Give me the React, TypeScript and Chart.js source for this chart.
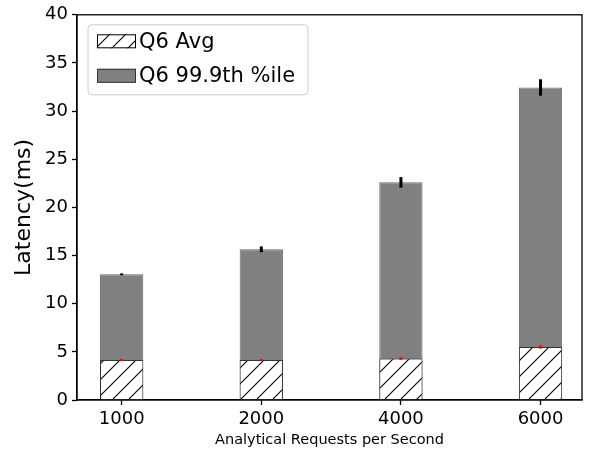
import React, { useEffect, useRef } from 'react';
import { Chart, registerables } from 'chart.js';

Chart.register(...registerables);

// ---- data ----
const categories = ['1000', '2000', '4000', '6000'];
const seriesLabels = ['Q6 Avg', 'Q6 99.9th %ile'];
const avgValues = [4.15, 4.15, 4.3, 5.5];
const avgErrors = [0.12, 0.1, 0.13, 0.17];
const p999Values = [13.05, 15.65, 22.6, 32.45];
const p999Errors = [0.1, 0.3, 0.55, 0.85];
const yMin = 0;
const yMax = 40;
const yStep = 5;
const xAxisTitle = 'Analytical Requests per Second';
const yAxisTitle = 'Latency(ms)';

const FONT = '"DejaVu Sans", "Liberation Sans", sans-serif';

function makeHatch(): CanvasPattern | string {
  const s = 16;
  const c = document.createElement('canvas');
  c.width = s;
  c.height = s;
  const g = c.getContext('2d');
  if (!g) return '#fff';
  g.fillStyle = '#ffffff';
  g.fillRect(0, 0, s, s);
  g.strokeStyle = '#000000';
  g.lineWidth = 1.1;
  g.beginPath();
  g.moveTo(-2, s + 2);
  g.lineTo(s + 2, -2);
  g.moveTo(-2, 2);
  g.lineTo(2, -2);
  g.moveTo(s - 2, s + 2);
  g.lineTo(s + 2, s - 2);
  g.stroke();
  return g.createPattern(c, 'repeat') || '#fff';
}

const errorBarPlugin = {
  id: 'errorBars',
  afterDatasetsDraw(chart: any) {
    const { ctx } = chart;
    const xs = chart.scales.x;
    const ys = chart.scales.y;
    const sets = [
      { vals: p999Values, errs: p999Errors, color: '#000000', w: 3 },
      { vals: avgValues, errs: avgErrors, color: '#ff0000', w: 3 },
    ];
    ctx.save();
    sets.forEach((s) => {
      ctx.strokeStyle = s.color;
      ctx.lineWidth = s.w;
      s.vals.forEach((v, i) => {
        const x = xs.getPixelForValue(i);
        ctx.beginPath();
        ctx.moveTo(x, ys.getPixelForValue(v - s.errs[i]));
        ctx.lineTo(x, ys.getPixelForValue(v + s.errs[i]));
        ctx.stroke();
      });
    });
    ctx.restore();
  },
};

const framePlugin = {
  id: 'frame',
  afterDraw(chart: any) {
    const { ctx, chartArea } = chart;
    ctx.save();
    ctx.strokeStyle = '#000';
    ctx.lineWidth = 1.3;
    ctx.strokeRect(chartArea.left, chartArea.top, chartArea.right - chartArea.left, chartArea.bottom - chartArea.top);
    ctx.restore();
  },
};

const legendPlugin = {
  id: 'boxLegend',
  afterDraw(chart: any) {
    const { ctx, chartArea } = chart;
    const x0 = chartArea.left + 11;
    const y0 = chartArea.top + 10;
    const w = 220;
    const h = 70;
    ctx.save();
    ctx.beginPath();
    if (ctx.roundRect) ctx.roundRect(x0, y0, w, h, 4);
    else ctx.rect(x0, y0, w, h);
    ctx.fillStyle = 'rgba(255,255,255,0.8)';
    ctx.fill();
    ctx.strokeStyle = '#cccccc';
    ctx.lineWidth = 1;
    ctx.stroke();
    chart.data.datasets.forEach((ds: any, i: number) => {
      const rowY = y0 + 16.5 + i * 34.5;
      const sx = x0 + 9;
      const sw = 39;
      const sh = 14;
      ctx.fillStyle = ds.backgroundColor;
      ctx.fillRect(sx, rowY - sh / 2, sw, sh);
      ctx.strokeStyle = i === 0 ? '#000' : '#333';
      ctx.lineWidth = 1;
      ctx.strokeRect(sx + 0.5, rowY - sh / 2 + 0.5, sw - 1, sh - 1);
      ctx.fillStyle = '#000';
      ctx.font = `21px ${FONT}`;
      ctx.textBaseline = 'middle';
      ctx.textAlign = 'left';
      ctx.fillText(ds.label, sx + sw + 3, rowY + 1);
    });
    ctx.restore();
  },
};

export default function App() {
  const ref = useRef<HTMLCanvasElement | null>(null);
  useEffect(() => {
    if (!ref.current) return;
    const hatch = makeHatch();
    const chart = new Chart(ref.current, {
      type: 'bar',
      data: {
        datasets: [
          {
            label: seriesLabels[0],
            data: avgValues.map((v, i) => ({ x: i, y: v })),
            backgroundColor: hatch as any,
            borderColor: 'rgba(0,0,0,0.6)',
            borderWidth: 1,
            grouped: false,
            barPercentage: 0.31,
            categoryPercentage: 1,
          },
          {
            label: seriesLabels[1],
            data: p999Values.map((v, i) => ({ x: i, y: v })),
            backgroundColor: '#808080',
            borderColor: 'rgba(0,0,0,0.6)',
            borderWidth: 1,
            grouped: false,
            barPercentage: 0.31,
            categoryPercentage: 1,
          },
        ],
      },
      options: {
        responsive: false,
        animation: false,
        layout: { padding: { top: 12, right: 14, left: 0, bottom: 0 } },
        plugins: { legend: { display: false }, tooltip: { enabled: false } },
        scales: {
          x: {
            type: 'linear',
            min: -0.32,
            max: 3.297,
            offset: false,
            afterFit: (s: any) => {
              s.height = 56;
            },
            grid: { drawOnChartArea: false, drawTicks: true, tickLength: 5, tickColor: '#000', tickWidth: 1.3, offset: false },
            border: { display: true, color: '#000', width: 1.3 },
            ticks: {
              stepSize: 1,
              includeBounds: false,
              autoSkip: false,
              maxRotation: 0,
              padding: 4,
              color: '#000',
              font: { family: FONT, size: 18 },
              callback: (v: any) => (categories[v as number] ?? ''),
            },
            title: {
              display: true,
              text: xAxisTitle,
              color: '#000',
              font: { family: FONT, size: 14.5, lineHeight: 1.2 },
              padding: { top: 0, bottom: 7.3 },
            },
          },
          y: {
            type: 'linear',
            min: yMin,
            max: yMax,
            afterFit: (s: any) => {
              s.width = 77;
            },
            grid: { drawOnChartArea: false, drawTicks: true, tickLength: 5, tickColor: '#000', tickWidth: 1.3 },
            border: { display: true, color: '#000', width: 1.3 },
            ticks: {
              stepSize: yStep,
              padding: 4,
              color: '#000',
              font: { family: FONT, size: 18 },
            },
            title: {
              display: true,
              text: yAxisTitle,
              color: '#000',
              font: { family: FONT, size: 22, lineHeight: 1.2 },
              padding: { top: 11, bottom: 0 },
            },
          },
        },
      } as any,
      plugins: [errorBarPlugin, framePlugin, legendPlugin],
    });
    return () => chart.destroy();
  }, []);
  return (
    <div style={{ position: 'absolute', left: 0, top: 0, width: 596, height: 456 }}>
      <canvas ref={ref} width={596} height={456} style={{ display: 'block' }} />
    </div>
  );
}
